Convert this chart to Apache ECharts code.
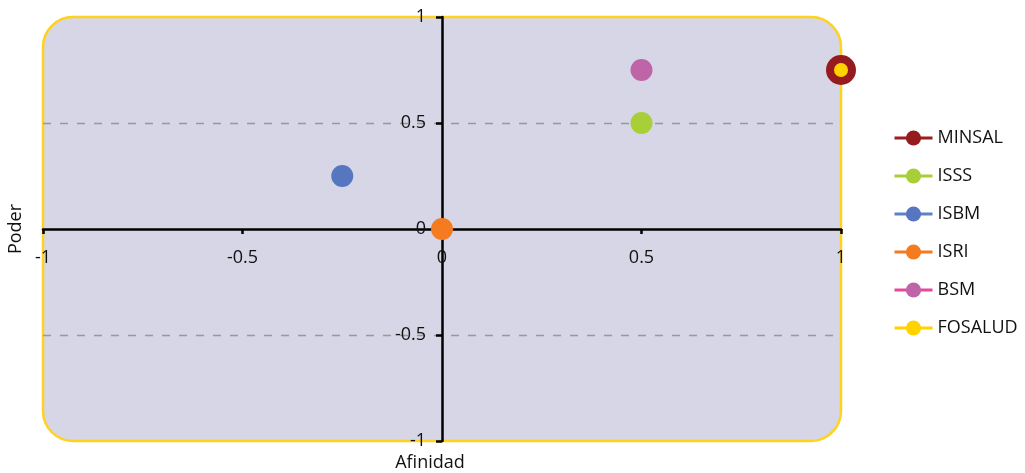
<!DOCTYPE html>
<html>
<head>
<meta charset="utf-8">
<script src="https://cdn.jsdelivr.net/npm/echarts@6/dist/echarts.min.js"></script>
<style>
  html, body { margin: 0; padding: 0; background: #ffffff; }
  #chart { width: 1025px; height: 473px; }
</style>
</head>
<body>
<div id="chart"></div>
<script>
// Actors placed by affinity (x) and power (y)
const actors = ['MINSAL', 'ISSS', 'ISBM', 'ISRI', 'BSM', 'FOSALUD'];
const afinidad = [1, 0.5, -0.25, 0, 0.5, 1];
const poder = [0.75, 0.5, 0.25, 0, 0.75, 0.75];
const markerColors = ['#951B1E', '#A8CF38', '#5677C0', '#F47B20', '#C064A8', '#FFD200'];
const legendLineColors = ['#9B1D22', '#A8CF38', '#5E82C8', '#F47B20', '#E8489A', '#FFD200'];
const markerSizes = [30, 22, 22, 22, 22, 14];
const axisTicks = [-1, -0.5, 0, 0.5, 1];

const FONT = '"Open Sans", "Noto Sans", sans-serif';
const chart = echarts.init(document.getElementById('chart'));

const series = actors.map((name, i) => ({
  name: name,
  type: 'line',
  data: [[afinidad[i], poder[i]]],
  symbol: 'circle',
  symbolSize: markerSizes[i],
  itemStyle: { color: markerColors[i], opacity: 1 },
  lineStyle: { color: legendLineColors[i], width: 3 },
  z: 10 + i,
  animation: false
}));

const option = {
  animation: false,
  grid: { left: 43, right: 184, top: 17, bottom: 32, containLabel: false, outerBoundsMode: 'none' },
  xAxis: {
    type: 'value',
    position: 'bottom',
    min: axisTicks[0],
    max: axisTicks[axisTicks.length - 1],
    interval: 0.5,
    axisLine: { onZero: false, lineStyle: { color: '#000', width: 2.5 } },
    axisTick: { show: true, length: 5, lineStyle: { color: '#000', width: 2.5 } },
    axisLabel: { color: '#111', fontSize: 18, fontFamily: FONT, margin: 20, hideOverlap: false },
    splitLine: { show: false },
    z: 5
  },
  yAxis: {
    type: 'value',
    position: 'left',
    min: axisTicks[0],
    max: axisTicks[axisTicks.length - 1],
    interval: 0.5,
    axisLine: { onZero: false, lineStyle: { color: '#000', width: 2.5 } },
    axisTick: { show: true, length: 6, lineStyle: { color: '#000', width: 2.5 } },
    axisLabel: { color: '#111', fontSize: 18, fontFamily: FONT, margin: 16, padding: [6, 0, 0, 0], hideOverlap: false },
    splitLine: {
      show: true,
      lineStyle: { color: ['transparent', '#999999', 'transparent', '#999999', 'transparent'], type: [8, 9], width: 1.3 }
    },
    z: 5
  },
  legend: {
    orient: 'vertical',
    left: 888,
    top: 124,
    itemWidth: 38,
    itemHeight: 19,
    itemGap: 20,
    data: actors,
    lineStyle: { width: 3 },
    textStyle: { color: '#111', fontSize: 18, fontFamily: FONT }
  },
  series: series
};

chart.setOption(option);

// Move both axes onto the zero lines, then add the rounded plot background and axis names
const tl = chart.convertToPixel({ gridIndex: 0 }, [axisTicks[0], axisTicks[axisTicks.length - 1]]);
const br = chart.convertToPixel({ gridIndex: 0 }, [axisTicks[axisTicks.length - 1], axisTicks[0]]);
const mid = chart.convertToPixel({ gridIndex: 0 }, [0, 0]);

chart.setOption({
  xAxis: { offset: -(br[1] - mid[1]) },
  yAxis: { offset: -(mid[0] - tl[0]) },
  graphic: [
    {
      type: 'rect',
      z: -10,
      silent: true,
      shape: { x: tl[0], y: tl[1], width: br[0] - tl[0], height: br[1] - tl[1], r: 30 },
      style: { fill: '#D6D6E6', stroke: '#FFD21F', lineWidth: 2.5 }
    },
    {
      type: 'text',
      silent: true,
      x: mid[0] - 12,
      y: br[1] + 22,
      style: { text: 'Afinidad', fill: '#111', font: '18px ' + FONT, align: 'center', verticalAlign: 'middle' }
    },
    {
      type: 'text',
      silent: true,
      x: 16,
      y: mid[1],
      rotation: Math.PI / 2,
      style: { text: 'Poder', fill: '#111', font: '18px ' + FONT, align: 'center', verticalAlign: 'middle' }
    }
  ]
});
</script>
</body>
</html>
